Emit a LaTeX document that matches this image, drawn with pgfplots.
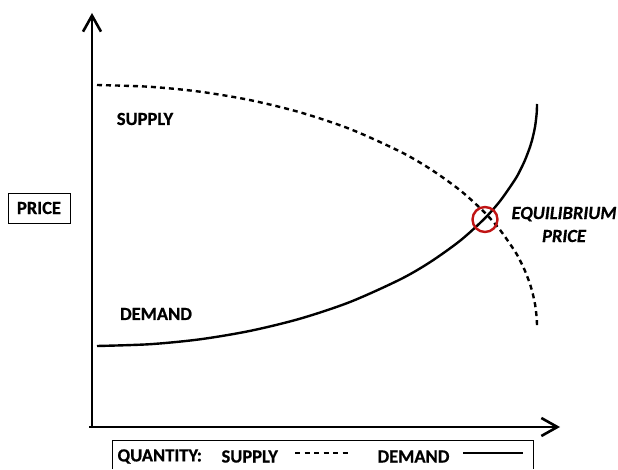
\documentclass[border=0pt]{standalone}
\usepackage{pgfplots}
\pgfplotsset{compat=1.18}
\usepackage{fontspec}
\setmainfont{Carlito}[BoldFeatures={FakeBold=0.6}, BoldItalicFeatures={FakeBold=0.6}]
\usetikzlibrary{arrows.meta}
\definecolor{eqred}{RGB}{192,20,20}
\newcommand{\lab}{\fontsize{18.5}{23}\selectfont\bfseries}
\begin{document}
\begin{tikzpicture}
\useasboundingbox (0,0) rectangle (618pt,469pt);
\begin{axis}[scale only axis, width=618pt, height=469pt,
  xmin=0, xmax=618, ymin=0, ymax=469, hide axis, clip=false,
  at={(0,0)}, anchor=south west]
% axes
\draw[line width=2.6pt, -{Straight Barb[length=16pt,width=18pt,line width=2.6pt]}] (axis cs:92,41) -- (axis cs:92,456);
\draw[line width=2.6pt, -{Straight Barb[length=16pt,width=18pt,line width=2.6pt]}] (axis cs:89,42) -- (axis cs:560,42);
% supply (dashed)
\addplot[black, line width=2.4pt, dash pattern=on 5pt off 4pt, smooth] coordinates {
(97,384) (150,382.2) (200,377.3) (250,368.9) (300,356.7) (350,340.0) (400,317.5)
(430,300.2) (460,278.8) (484,257.1) (500,239.1) (515,217.6) (520,208.6) (525,198.1)
(530,185.0) (532,178.4) (535,165.0) (536.7,150.9) (537,142)
};
% demand (solid)
\addplot[black, line width=2.4pt, smooth] coordinates {
(97,123) (150,124.8) (200,129.7) (250,138.1) (300,150.3) (350,167.0) (400,189.5)
(430,206.8) (460,228.2) (484,249.9) (500,267.9) (515,289.4) (520,298.4) (525,308.9)
(530,322.0) (532,328.6) (535,342.0) (536.7,356.1) (537,365)
};
% equilibrium circle
\addplot[only marks, mark=o, mark size=12.5pt, mark options={draw=eqred, line width=2.4pt}] coordinates {(485,249.5)};
% labels
\node[font=\lab] at (axis cs:145,350) {SUPPLY};
\node[font=\lab] at (axis cs:156,155) {DEMAND};
\node[font=\lab\itshape, align=center] at (axis cs:564,244.5) {EQUILIBRIUM\\PRICE};
\node[draw, line width=0.8pt, font=\lab, minimum width=62pt, minimum height=30pt, inner sep=0pt] at (axis cs:39,261) {PRICE};
% bottom legend box
\draw[line width=0.8pt] (axis cs:112,0) |- (axis cs:533,29) -- (axis cs:533,0);
\node[font=\lab, anchor=west] at (axis cs:114,12.5) {QUANTITY:};
\node[font=\lab, anchor=west] at (axis cs:218,12.5) {SUPPLY};
\node[font=\lab, anchor=west] at (axis cs:374,12.5) {DEMAND};
\draw[line width=2pt, dash pattern=on 5pt off 4.5pt] (axis cs:295,16) -- (axis cs:349,16);
\draw[line width=2pt] (axis cs:463,16) -- (axis cs:523,16);
\end{axis}
\end{tikzpicture}
\end{document}
